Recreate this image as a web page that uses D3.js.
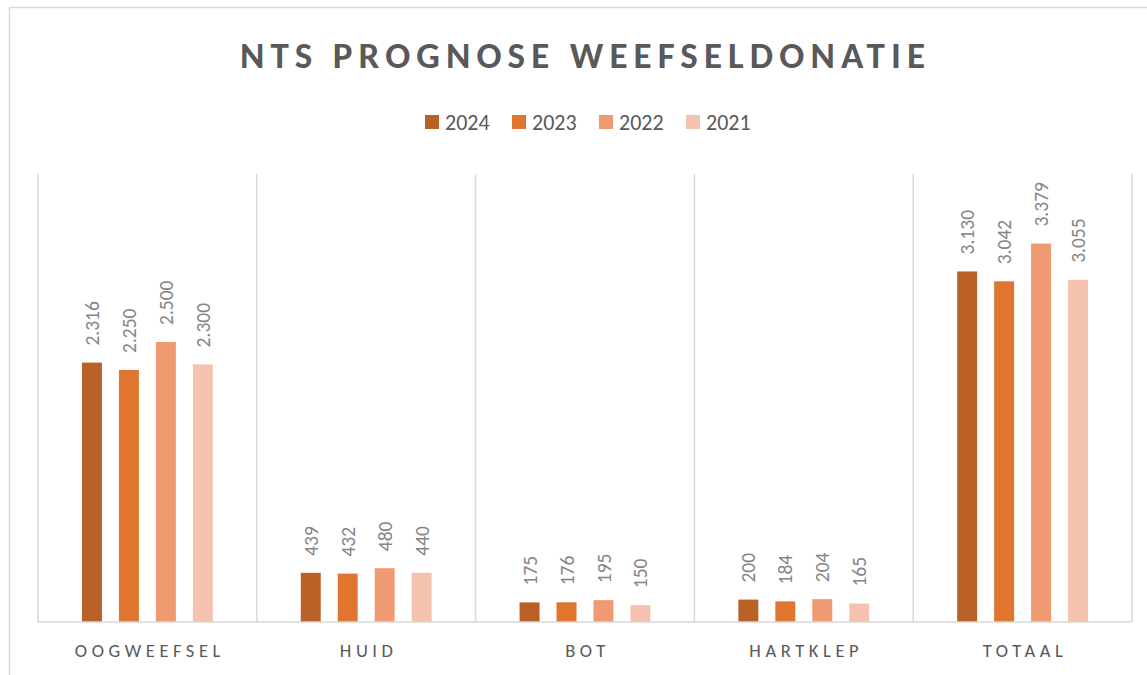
<!DOCTYPE html>
<html>
<head>
<meta charset="utf-8">
<script src="https://cdn.jsdelivr.net/npm/d3@7/dist/d3.min.js"></script>
<style>
  body { margin: 0; background: #fff; }
  text { font-family: Carlito, Lato, "Open Sans", sans-serif; }
</style>
</head>
<body>
<svg id="chart" width="1147" height="675"></svg>
<script>
(function() {
  // chart data
  var categories = ["OOGWEEFSEL", "HUID", "BOT", "HARTKLEP", "TOTAAL"];
  var years = ["2024", "2023", "2022", "2021"];
  var v2024 = [2316, 439, 175, 200, 3130];
  var v2023 = [2250, 432, 176, 184, 3042];
  var v2022 = [2500, 480, 195, 204, 3379];
  var v2021 = [2300, 440, 150, 165, 3055];
  var seriesValues = [v2024, v2023, v2022, v2021];
  var colors = ["#b96026", "#df752f", "#f09a71", "#f5c2b0"];

  var svg = d3.select("svg"),
    width = +svg.attr("width"),
    height = +svg.attr("height");

  var rows = categories.map(function(c, i) {
    return { cat: c, vals: years.map(function(y, j) { return { year: y, value: seriesValues[j][i] }; }) };
  });

  // outer chart border
  svg.append("rect")
      .attr("x", 9.5).attr("y", 7.5)
      .attr("width", width + 20).attr("height", height + 20)
      .attr("fill", "none")
      .attr("stroke", "#d9d9d9")
      .attr("stroke-width", 1.5);

  var x0 = d3.scaleBand()
      .domain(categories)
      .range([38, 1132])
      .paddingInner(0).paddingOuter(0);

  var x1 = d3.scaleBand()
      .domain(years)
      .range([0, x0.bandwidth()])
      .paddingInner(0.46)
      .paddingOuter(1.19);

  var y = d3.scaleLinear()
      .domain([0, 4000])
      .range([622, 174]);

  var color = d3.scaleOrdinal().domain(years).range(colors);

  // vertical separators
  var seps = categories.map(function(c) { return x0(c); }).concat([x0.range()[1]]);
  svg.append("g")
    .selectAll("line")
    .data(seps)
    .enter().append("line")
      .attr("x1", function(d) { return d; })
      .attr("x2", function(d) { return d; })
      .attr("y1", y(4000))
      .attr("y2", y(0))
      .attr("stroke", "#d9d9d9")
      .attr("stroke-width", 1.5);

  var groups = svg.append("g")
    .selectAll("g")
    .data(rows)
    .enter().append("g")
      .attr("transform", function(d) { return "translate(" + x0(d.cat) + ",0)"; });

  groups.selectAll("rect")
    .data(function(d) { return d.vals; })
    .enter().append("rect")
      .attr("x", function(d) { return x1(d.year); })
      .attr("y", function(d) { return y(d.value); })
      .attr("width", x1.bandwidth())
      .attr("height", function(d) { return y(0) - y(d.value); })
      .attr("fill", function(d) { return color(d.year); });

  var fmt = function(v) { return d3.format(",")(v).replace(/,/g, "."); };

  groups.selectAll("text.val")
    .data(function(d) { return d.vals; })
    .enter().append("text")
      .attr("class", "val")
      .attr("transform", function(d) {
        return "translate(" + (x1(d.year) + x1.bandwidth() / 2) + "," + (y(d.value) - 17) + ") rotate(-90)";
      })
      .attr("dy", "0.36em")
      .attr("text-anchor", "start")
      .attr("font-size", 19.5)
      .attr("fill", "#858585")
      .text(function(d) { return fmt(d.value); });

  // baseline
  svg.append("line")
      .attr("x1", x0.range()[0]).attr("x2", x0.range()[1])
      .attr("y1", y(0)).attr("y2", y(0))
      .attr("stroke", "#d9d9d9")
      .attr("stroke-width", 1.5);

  // category labels
  svg.append("g")
    .selectAll("text")
    .data(categories)
    .enter().append("text")
      .attr("x", function(d) { return x0(d) + x0.bandwidth() / 2 + 2.5; })
      .attr("y", 657)
      .attr("text-anchor", "middle")
      .attr("font-size", 18.5)
      .attr("letter-spacing", "4.6px")
      .attr("fill", "#595959")
      .text(function(d) { return d; });

  // title
  var title = svg.append("text")
      .attr("x", 240)
      .attr("y", 68)
      .attr("font-size", 37)
      .attr("font-weight", "bold")
      .attr("fill", "#595959")
      .text("NTS PROGNOSE WEEFSELDONATIE");
  var tw = title.node().getComputedTextLength();
  var n = title.text().length;
  title.attr("letter-spacing", ((685 - tw) / (n - 1)) + "px");

  // legend
  var legendX = [425, 512, 599, 686];
  var legend = svg.append("g")
    .selectAll("g")
    .data(years)
    .enter().append("g")
      .attr("transform", function(d, i) { return "translate(" + legendX[i] + ",115)"; });

  legend.append("rect")
      .attr("width", 14).attr("height", 14)
      .attr("fill", function(d) { return color(d); });

  legend.append("text")
      .attr("x", 20)
      .attr("y", 14.5)
      .attr("font-size", 22)
      .attr("fill", "#595959")
      .text(function(d) { return d; });
})();
</script>
</body>
</html>
